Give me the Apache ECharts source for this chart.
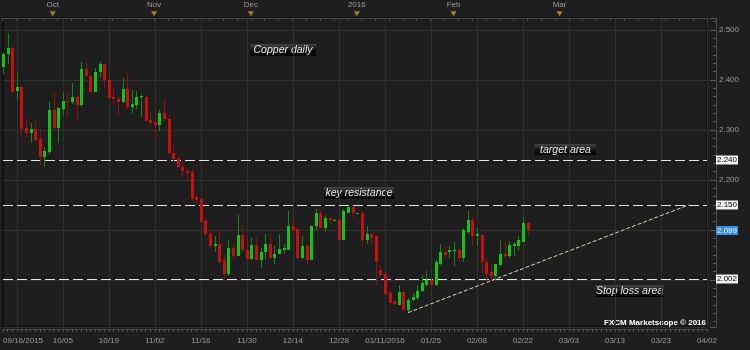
<!DOCTYPE html>
<html><head><meta charset="utf-8">
<script src="https://cdn.jsdelivr.net/npm/echarts@6/dist/echarts.min.js"></script>
<style>html,body{margin:0;padding:0;background:#1e1e1e}#c{width:750px;height:350px}</style>
</head><body><div id="c"></div>
<script>
// ---- data ----
const tradingDays = {
  '2015-09': [16,17,18,21,22,23,24,25,28,29,30],
  '2015-10': [1,2,5,6,7,8,9,12,13,14,15,16,19,20,21,22,23,26,27,28,29,30],
  '2015-11': [2,3,4,5,6,9,10,11,12,13,16,17,18,19,20,23,24,25,26,27,30],
  '2015-12': [1,2,3,4,7,8,9,10,11,14,15,16,17,18,21,22,23,24,25,28,29,30,31],
  '2016-01': [1,4,5,6,7,8,11,12,13,14,15,18,19,20,21,22,25,26,27,28,29],
  '2016-02': [1,2,3,4,5,8,9,10,11,12,15,16,17,18,19,22,23]
};
const futureSlots = 39;
const opens = [2.426,2.453,2.464,2.379,2.386,2.304,2.293,2.302,2.281,2.247,2.256,2.340,2.304,2.343,2.359,2.356,2.366,2.349,2.422,2.409,
2.377,2.416,2.432,2.401,2.365,2.363,2.356,2.382,2.347,2.351,2.366,2.367,2.320,2.316,2.311,2.334,2.321,2.254,2.241,2.227,
2.218,2.216,2.165,2.161,2.118,2.093,2.069,2.073,2.039,2.013,2.065,2.048,2.090,2.060,2.042,2.070,2.040,2.057,2.073,2.043,
2.053,2.061,2.061,2.107,2.102,2.043,2.067,2.040,2.107,2.135,2.105,2.125,2.119,2.120,2.080,2.135,2.145,2.133,2.133,2.079,
2.093,2.087,2.020,2.013,1.973,1.957,1.950,1.975,1.940,1.959,1.963,1.977,1.990,2.000,1.990,2.033,2.057,2.055,2.058,2.060,
2.043,2.097,2.120,2.089,2.090,2.037,2.015,2.008,2.030,2.053,2.047,2.069,2.069,2.077,2.113];
const closes = [2.453,2.464,2.377,2.387,2.303,2.293,2.301,2.280,2.247,2.257,2.340,2.304,2.344,2.357,2.356,2.366,2.350,2.422,2.409,2.377,
2.417,2.432,2.401,2.364,2.362,2.356,2.382,2.347,2.352,2.367,2.368,2.319,2.314,2.310,2.334,2.321,2.253,2.241,2.227,2.217,
2.215,2.161,2.160,2.117,2.092,2.068,2.073,2.037,2.013,2.065,2.048,2.090,2.059,2.042,2.070,2.040,2.057,2.073,2.043,2.053,
2.062,2.063,2.107,2.101,2.043,2.067,2.040,2.108,2.135,2.105,2.125,2.119,2.120,2.080,2.137,2.145,2.133,2.134,2.080,2.093,
2.085,2.037,2.010,1.971,1.953,1.951,1.975,1.940,1.960,1.965,1.978,1.993,2.000,1.990,2.037,2.055,2.050,2.060,2.060,2.043,
2.099,2.120,2.089,2.091,2.037,2.013,2.008,2.031,2.053,2.047,2.070,2.071,2.079,2.113,2.099];
const lows = [2.413,2.433,2.374,2.363,2.285,2.287,2.273,2.277,2.231,2.225,2.252,2.297,2.273,2.329,2.325,2.352,2.319,2.346,2.407,2.376,
2.376,2.403,2.382,2.363,2.351,2.331,2.354,2.341,2.333,2.341,2.325,2.317,2.309,2.287,2.299,2.317,2.251,2.239,2.225,2.205,
2.197,2.159,2.153,2.110,2.088,2.065,2.057,2.030,2.000,2.007,2.040,2.047,2.057,2.042,2.040,2.039,2.023,2.040,2.042,2.032,
2.051,2.053,2.060,2.087,2.042,2.042,2.033,2.039,2.101,2.103,2.097,2.113,2.118,2.075,2.079,2.133,2.123,2.132,2.067,2.073,
2.070,1.989,2.007,1.970,1.952,1.950,1.949,1.937,1.935,1.957,1.960,1.975,1.987,1.985,1.987,2.030,2.040,2.043,2.027,2.038,
2.037,2.093,2.070,2.067,2.013,1.993,1.998,2.000,2.029,2.043,2.043,2.047,2.058,2.075,2.090];
const highs = [2.457,2.494,2.467,2.414,2.389,2.324,2.313,2.317,2.301,2.267,2.356,2.376,2.345,2.373,2.374,2.394,2.371,2.437,2.437,2.411,
2.423,2.436,2.433,2.404,2.382,2.365,2.404,2.417,2.380,2.379,2.372,2.369,2.336,2.319,2.340,2.361,2.329,2.269,2.247,2.239,
2.225,2.223,2.170,2.165,2.123,2.098,2.087,2.100,2.050,2.080,2.073,2.130,2.110,2.085,2.083,2.085,2.063,2.091,2.091,2.068,
2.093,2.073,2.137,2.125,2.103,2.088,2.071,2.110,2.142,2.140,2.129,2.127,2.121,2.123,2.143,2.146,2.147,2.135,2.137,2.108,
2.094,2.090,2.030,2.017,1.977,1.958,1.990,1.980,1.963,1.973,1.990,2.010,2.018,2.005,2.040,2.071,2.067,2.067,2.077,2.063,
2.103,2.137,2.127,2.103,2.091,2.043,2.030,2.033,2.081,2.077,2.077,2.077,2.087,2.127,2.117];
const bottomTickIdx = [0,13,23,33,43,53,63,73,83,93,103,113,123,133,143,153];
const bottomTickLabels = ['09/16/2015','10/05','10/19','11/02','11/16','11/30','12/14','12/28','01/11/2016','01/25','02/08','02/22','03/03','03/13','03/23','04/02'];
const gridLineIdx = [3,13,23,33,43,53,63,73,83,93,103,113,123,133,143,153];
const monthIdx = [11,33,54,77,98,121];
const monthLabels = ['Oct','Nov','Dec','2016','Feb','Mar'];
const levels = [2.240, 2.150, 2.002];
const lastPrice = 2.099;
const hiddenAxisLabels = ['2.000', '2.100'];
const trendStart = [87.6, 1.9346];
const trendEnd = [148.6, 2.150];
const notes = [
  {text:'Copper daily', x:250, y:44, w:66, h:12},
  {text:'key resistance', x:324, y:187, w:70, h:12},
  {text:'target area', x:535, y:144, w:61, h:11},
  {text:'Stop loss area', x:595, y:285, w:69, h:12}
];

// ---- build ----
const categories = [];
Object.keys(tradingDays).forEach(m => tradingDays[m].forEach(d => categories.push(m + '-' + String(d).padStart(2,'0'))));
for (let k = 1; k <= futureSlots; k++) categories.push('+' + k);
const candleData = opens.map((o, i) => [i, o, closes[i], lows[i], highs[i]]);
const tickMap = {}; bottomTickIdx.forEach((ix, k) => tickMap[ix] = bottomTickLabels[k]);
const monthMap = {}; monthIdx.forEach((ix, k) => monthMap[ix] = monthLabels[k]);

const UP = '#14c414', DN = '#c41010', UPW = '#1c801c', DNW = '#8a1212';
function renderCandle(params, api) {
  const i = api.value(0), o = api.value(1), c = api.value(2), l = api.value(3), h = api.value(4);
  const pO = api.coord([i, o]), pC = api.coord([i, c]), pL = api.coord([i, l]), pH = api.coord([i, h]);
  const x = Math.round(pO[0]);
  const up = c >= o;
  const top = Math.round(Math.min(pO[1], pC[1]));
  const hh = Math.max(1, Math.round(Math.max(pO[1], pC[1])) - top);
  return {type:'group', children:[
    {type:'line', shape:{x1:x+0.5, y1:Math.round(pH[1]), x2:x+0.5, y2:Math.round(pL[1])}, style:{stroke: up ? UPW : DNW, lineWidth:1}},
    {type:'rect', shape:{x:x-1, y:top, width:3, height:hh}, style:{fill: up ? UP : DN}}
  ]};
}

const boxLabel = (fg, bg) => ({show:true, position:'end', distance:9, formatter: p => Number(p.value).toFixed(3),
  color:fg, backgroundColor:bg, padding:[1,1,0,1], fontSize:8, fontFamily:'Liberation Sans'});
const levelLine = v => ({
  yAxis: v,
  lineStyle:{color:'#e6e6e6', width:1, type:[10,4]},
  label: boxLabel('#000', '#f2f2f2')
});

const chart = echarts.init(document.getElementById('c'));
chart.setOption({
  animation:false,
  backgroundColor:'#1e1e1e',
  grid:[
    {left:2, right:43, top:18, height:309, show:true, borderColor:'#000', borderWidth:1, backgroundColor:'transparent'},
    {left:2, right:43, top:11, height:7}
  ],
  xAxis:[
    {type:'category', gridIndex:0, data:categories, boundaryGap:false, position:'bottom', offset:2,
      axisLine:{lineStyle:{color:'#444'}},
      axisTick:{show:true, interval:0, length:3, lineStyle:{color:'#555'}},
      axisLabel:{interval:(i)=> tickMap[i] !== undefined, formatter:(v,i)=> tickMap[i] || '', color:'#9c9c9c',
        fontSize:8, fontFamily:'Liberation Sans', margin:8, alignMinLabel:'left', hideOverlap:false},
      splitLine:{show:true, interval:(i)=> gridLineIdx.indexOf(i) >= 0, lineStyle:{color:'#303030', width:1}}
    },
    {type:'category', gridIndex:1, data:categories, boundaryGap:false, position:'top',
      axisLine:{lineStyle:{color:'#4a4a4a'}},
      axisTick:{show:true, inside:true, interval:(i)=> i % 3 === 0, length:3, lineStyle:{color:'#4a4a4a'}},
      axisLabel:{interval:(i)=> monthMap[i] !== undefined, formatter:(v,i)=> monthMap[i] || '', color:'#9c9c9c',
        fontSize:8, fontFamily:'Liberation Sans', margin:2},
      splitLine:{show:false}
    }
  ],
  yAxis:[
    {type:'value', gridIndex:0, position:'right', offset:9, min:1.906, max:2.524, splitNumber:6, scale:true,
      axisLine:{show:true, lineStyle:{color:'#4a4a4a'}},
      axisTick:{show:true, inside:true, length:6, lineStyle:{color:'#555'}},
      minorTick:{show:true, splitNumber:6, length:3, lineStyle:{color:'#555'}},
      axisLabel:{color:'#9c9c9c', fontSize:8, fontFamily:'Liberation Sans', margin:3, showMinLabel:false, showMaxLabel:false,
        formatter:v=> { const s = v.toFixed(3); return hiddenAxisLabels.indexOf(s) >= 0 ? '' : s; }},
      splitLine:{show:true, lineStyle:{color:'#303030', width:1}}
    },
    {type:'value', gridIndex:1, min:0, max:1, show:false}
  ],
  series:[
    {type:'custom', name:'Copper', xAxisIndex:0, yAxisIndex:0, renderItem:renderCandle, data:candleData, z:5,
      encode:{x:0, y:[1,2,3,4]},
      markLine:{silent:true, symbol:['none','none'], animation:false, precision:3,
        data:[
          levelLine(levels[0]), levelLine(levels[1]), levelLine(levels[2]),
          {yAxis:lastPrice, lineStyle:{color:'rgba(0,0,0,0)', width:0}, label: boxLabel('#eaf3ff', '#3a8ede')},
          [{coord:trendStart, lineStyle:{color:'#c4e2b4', width:1, type:[4,2]}, label:{show:false}}, {coord:trendEnd}]
        ]}
    },
    {type:'scatter', xAxisIndex:1, yAxisIndex:1, symbol:'triangle', symbolRotate:180, symbolSize:[6,5],
      itemStyle:{color:'#c99a1e'}, silent:true, clip:false,
      data: monthIdx.map(ix => [ix, 0.6])}
  ],
  graphic: notes.map(n => ({
    type:'group', silent:true, children:[
      {type:'rect', shape:{x:n.x, y:n.y, width:n.w, height:n.h},
        style:{fill:new echarts.graphic.LinearGradient(0,0,0,1,[{offset:0,color:'#444'},{offset:0.5,color:'#151515'},{offset:1,color:'#000'}])}},
      {type:'text', style:{text:n.text, x:n.x + n.w/2, y:n.y + n.h/2 + 0.5, align:'center', verticalAlign:'middle',
        fill:'#e8e8e8', font:'italic 10.5px "Liberation Sans"'}}
    ]
  })).concat([
    {type:'text', silent:true, style:{text:'FXCM Marketscope \u00a9 2016', x:706, y:323, align:'right', verticalAlign:'middle',
      fill:'#ffffff', font:'bold 8px "Liberation Sans"'}}
  ])
});
</script></body></html>
